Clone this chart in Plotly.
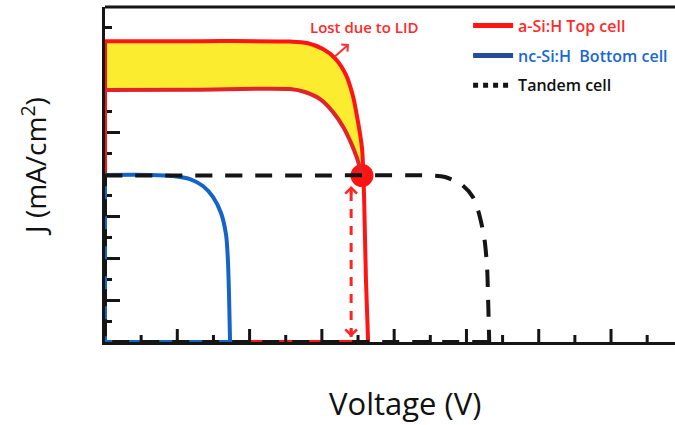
import plotly.graph_objects as go

# ---------------- data (tick units) ----------------
X_MAX = 15.77
Y_MAX = 16

# a-Si:H top cell, initial J-V curve
V_TOP = [0, 2.5, 5.12, 5.59, 6.03, 6.36, 6.67, 6.86, 7.00, 7.11, 7.14, 7.17, 7.22, 7.28]
J_TOP = [14.37, 14.37, 14.35, 14.28, 13.99, 13.56, 12.75, 11.75, 10.51, 9.26, 8.36, 6.78, 2.96, 0]

# a-Si:H top cell after light induced degradation (ends at the tandem operating point)
V_LID = [0, 2.5, 5.12, 5.53, 5.95, 6.31, 6.59, 6.81, 6.97, 7.11]
J_LID = [12.03, 12.05, 12.08, 11.94, 11.60, 10.98, 10.27, 9.50, 8.79, 7.95]

# nc-Si:H bottom cell
V_BOT = [0, 1.25, 1.88, 2.35, 2.71, 2.99, 3.21, 3.35, 3.40, 3.43, 3.46]
J_BOT = [7.98, 7.98, 7.93, 7.78, 7.45, 6.92, 6.16, 5.11, 3.92, 2.34, 0]

# Tandem cell
V_TAN = [0, 5.40, 8.99, 9.41, 9.88, 10.18, 10.32, 10.49, 10.57, 10.60, 10.63]
J_TAN = [7.95, 7.95, 7.95, 7.88, 7.50, 6.92, 6.30, 5.01, 3.58, 2.01, 0]

# Operating point (current matching) and the double arrow below it
OP_V = [7.11]
OP_J = [7.95]
ARROW_V = [6.81, 6.81]
ARROW_J = [0.24, 7.45]

# "Lost due to LID" arrow (tail -> head)
LID_ARROW_V = [6.31, 6.75]
LID_ARROW_J = [13.56, 14.23]

# axis ticks
MAJOR_X = list(range(2, 16, 2))
MINOR_X = list(range(1, 16, 2))
MAJOR_Y = list(range(0, 17, 2))
MINOR_Y = list(range(1, 16, 2))

NAMES = ["a-Si:H Top cell", "nc-Si:H  Bottom cell", "Tandem cell"]

RED = "#ff1414"
RED_LID = "#e2232b"
YELLOW = "#fcec30"
BLUE = "#1464c8"
BLACK = "#151515"

PLOT_H = 335  # px height of plotting area
PX = Y_MAX / PLOT_H  # y units per pixel

fig = go.Figure()

# yellow area lost due to LID
k = sum(1 for j in J_TOP if j >= J_LID[-1])
fill_v = V_TOP[:k] + V_LID[::-1]
fill_j = J_TOP[:k] + J_LID[::-1]
fig.add_trace(go.Scatter(x=fill_v, y=fill_j, mode="lines", fill="toself",
                         fillcolor=YELLOW, line=dict(width=0, shape="spline", smoothing=0.6),
                         showlegend=False, hoverinfo="skip"))

# operating point
fig.add_trace(go.Scatter(x=OP_V, y=OP_J, mode="markers",
                         marker=dict(size=23, color=RED), showlegend=False))

def edge(v, j, color, dash="solid", width=4):
    fig.add_trace(go.Scatter(x=[v[-1], 0, 0], y=[0, 0, j[0]], mode="lines",
                             line=dict(color=color, width=width, dash=dash),
                             showlegend=False, hoverinfo="skip"))

def curve(v, j, color, dash="solid", width=4):
    fig.add_trace(go.Scatter(x=v, y=j, mode="lines",
                             line=dict(color=color, width=width, dash=dash,
                                       shape="spline", smoothing=0.8),
                             showlegend=False))

edge(V_TOP, J_TOP, RED)
curve(V_TOP, J_TOP, RED)
curve(V_LID, J_LID, RED_LID)
edge(V_BOT, J_BOT, BLUE)
curve(V_BOT, J_BOT, BLUE)
edge(V_TAN, J_TAN, BLACK, dash="17px,13px")
curve(V_TAN, J_TAN, BLACK, dash="17px,13px")

# dashed double arrow
fig.add_trace(go.Scatter(x=ARROW_V, y=ARROW_J, mode="lines",
                         line=dict(color="#ff2424", width=3, dash="9px,8px"),
                         showlegend=False, hoverinfo="skip"))

# x-axis tick marks (inside, pointing up): long major, short minor
for vals, length in ((MAJOR_X, 13), (MINOR_X, 7)):
    fig.add_trace(go.Scatter(
        x=vals, y=[0] * len(vals), mode="markers",
        marker=dict(size=1, color="rgba(0,0,0,0)"),
        error_y=dict(type="data", symmetric=False, array=[length * PX] * len(vals),
                     arrayminus=[0] * len(vals), width=0, thickness=3, color=BLACK),
        showlegend=False, hoverinfo="skip"))

# legend entries
leg_colors = [RED, "#234c9e", BLACK]
txt_colors = ["#ff2a2a", "#1a68d0", "#111111"]
leg_dash = ["solid", "solid", "dot"]
for i, nm in enumerate(NAMES):
    fig.add_trace(go.Scatter(x=[None], y=[None], mode="lines",
                             name=f"<span style='color:{txt_colors[i]}'>{nm}</span>",
                             legendgroup=str(i),
                             line=dict(color=leg_colors[i], width=5, dash=leg_dash[i])))

annotations = [
    dict(x=ARROW_V[1], y=ARROW_J[1], ax=0, ay=9, xref="x", yref="y",
         text="", showarrow=True, arrowhead=4, arrowsize=0.75, arrowwidth=3,
         arrowcolor="#ff2424"),
    dict(x=ARROW_V[0], y=ARROW_J[0], ax=0, ay=-9, xref="x", yref="y",
         text="", showarrow=True, arrowhead=4, arrowsize=0.75, arrowwidth=3,
         arrowcolor="#ff2424"),
    dict(x=LID_ARROW_V[1], y=LID_ARROW_J[1], ax=LID_ARROW_V[0], ay=LID_ARROW_J[0],
         xref="x", yref="y", axref="x", ayref="y",
         text="", showarrow=True, arrowhead=4, arrowsize=0.9, arrowwidth=2,
         arrowcolor="#ff3030"),
    dict(x=7.19, y=15.04, xref="x", yref="y", text="Lost due to LID", showarrow=False,
         xanchor="center", yanchor="middle",
         font=dict(family="Open Sans", size=15, color="#ff2a2a", weight=600)),
    dict(x=-0.125, y=0.525, xref="paper", yref="paper", text="J (mA/cm<sup>2</sup>)",
         textangle=-90, showarrow=False, xanchor="center", yanchor="middle",
         font=dict(family="Open Sans", size=28, color="#111111")),
    dict(x=0.526, y=-0.182, xref="paper", yref="paper", text="Voltage (V)",
         showarrow=False, xanchor="center", yanchor="middle",
         font=dict(family="Open Sans", size=31, color="#111111")),
]

fig.update_layout(
    width=675, height=425,
    margin=dict(l=105, r=0, t=7, b=83),
    paper_bgcolor="white", plot_bgcolor="white",
    showlegend=True,
    legend=dict(x=0.637, y=0.995, xanchor="left", yanchor="top",
                traceorder="grouped", tracegroupgap=6, itemwidth=40,
                font=dict(family="Open Sans", size=16, weight=600),
                bgcolor="rgba(0,0,0,0)"),
    annotations=annotations,
    shapes=[dict(type="line", xref="paper", yref="paper", x0=0, x1=1, y0=1, y1=1,
                 line=dict(color=BLACK, width=3))],
)

fig.update_xaxes(range=[0, X_MAX], showgrid=False, zeroline=False,
                 showline=True, linecolor=BLACK, linewidth=3,
                 ticks="", showticklabels=False)
fig.update_yaxes(range=[0, Y_MAX], showgrid=False, zeroline=False,
                 showline=True, linecolor=BLACK, linewidth=3,
                 ticks="inside", tickmode="array", tickvals=MAJOR_Y,
                 ticklen=15, tickwidth=3, tickcolor=BLACK,
                 minor=dict(ticks="inside", tickmode="array", tickvals=MINOR_Y,
                            ticklen=7, tickwidth=3, tickcolor=BLACK),
                 showticklabels=False, layer="below traces")

fig.write_html("out.html")
